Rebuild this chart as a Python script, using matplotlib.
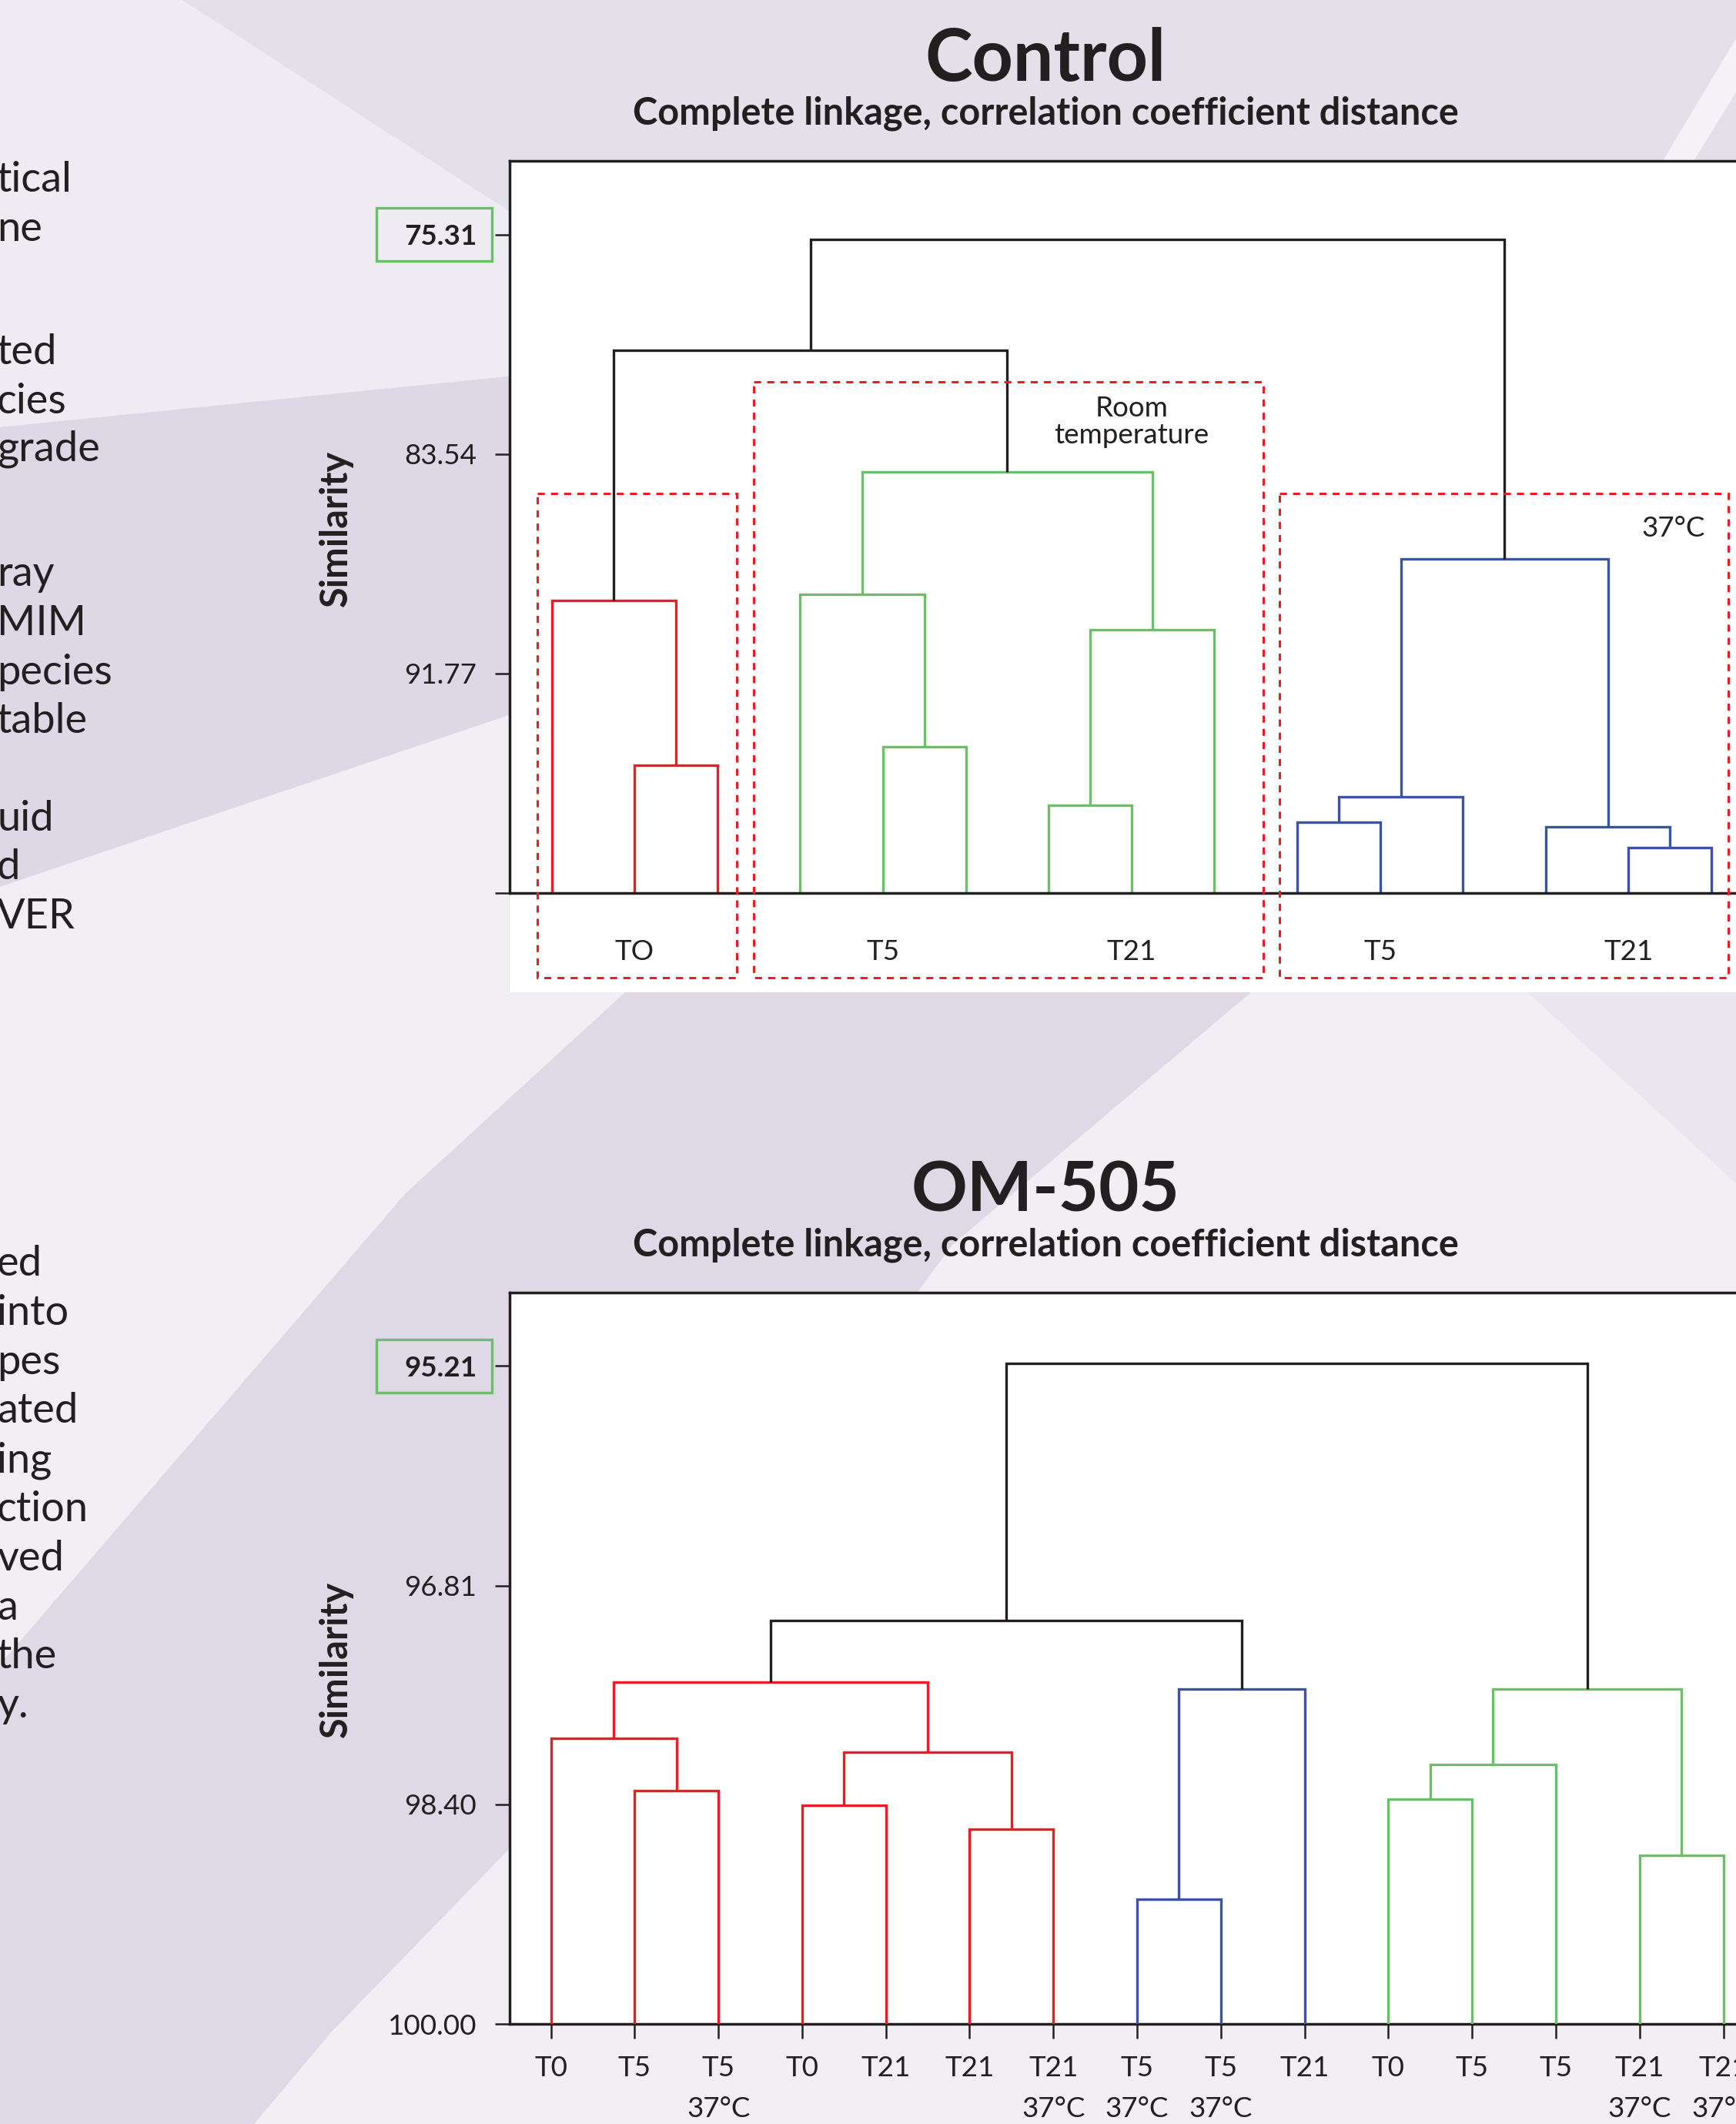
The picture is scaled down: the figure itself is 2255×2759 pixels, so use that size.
import matplotlib
matplotlib.use('Agg')
import matplotlib.pyplot as plt
import matplotlib.transforms as mtransforms
from matplotlib.patches import Rectangle, Polygon

plt.rcParams['font.family'] = ['Lato', 'Open Sans', 'DejaVu Sans']

# ---------------- data ----------------
# Control dendrogram: 15 leaves (0..14), merges create nodes 15..28
ctrl_n_leaves = 15
ctrl_merge_a = [1, 0, 4, 3, 6, 19, 18, 9, 22, 13, 12, 23, 16, 27]
ctrl_merge_b = [2, 15, 5, 17, 7, 8, 20, 10, 11, 14, 24, 25, 21, 26]
ctrl_merge_sim = [95.22, 89.04, 94.51, 88.79, 96.70, 90.12, 84.21,
                  97.34, 96.38, 98.30, 97.51, 87.48, 79.63, 75.49]
ctrl_merge_grp = ['r', 'r', 'g', 'g', 'g', 'g', 'g',
                  'b', 'b', 'b', 'b', 'b', 'k', 'k']
ctrl_group_labels = ['TO', 'T5', 'T21', 'T5', 'T21']
ctrl_group_centre_leaf = [2, 5, 8, 11, 14]
ctrl_box_leaf_ranges = [(1, 3), (4, 9), (10, 15)]
ctrl_box_labels = ['', 'Room\ntemperature', '37°C']
ctrl_yticks = [75.31, 83.54, 91.77, 100.00]
ctrl_yticklabels = ['75.31', '83.54', '91.77', '']

# OM-505 dendrogram
om_n_leaves = 15
om_leaf_time = ['T0', 'T5', 'T5', 'T0', 'T21', 'T21', 'T21', 'T5', 'T5',
                'T21', 'T0', 'T5', 'T5', 'T21', 'T21']
om_leaf_temp = ['', '', '37°C', '', '', '', '37°C', '37°C', '37°C',
                '', '', '', '', '37°C', '37°C']
om_merge_a = [1, 0, 3, 5, 17, 16, 7, 21, 20, 10, 24, 13, 25, 23]
om_merge_b = [2, 15, 4, 6, 18, 19, 8, 9, 22, 11, 12, 14, 26, 27]
om_merge_sim = [98.30, 97.92, 98.41, 98.58, 98.02, 97.51, 99.09,
                97.56, 97.06, 98.36, 98.11, 98.77, 97.56, 95.19]
om_merge_grp = ['r', 'r', 'r', 'r', 'r', 'r', 'b', 'b', 'k',
                'g', 'g', 'g', 'g', 'k']
om_yticks = [95.21, 96.81, 98.40, 100.00]
om_yticklabels = ['95.21', '96.81', '98.40', '100.00']

# ---------------- style ----------------
K = '#231f20'
RED = '#ed1c24'
GREEN = '#6cbf6a'
BLUE = '#3a53a4'
COLS = {'r': RED, 'g': GREEN, 'b': BLUE, 'k': K}
FS = 26.5
AX_LW = 2.5

W, H = 2255, 2759
DPI = 100
fig = plt.figure(figsize=(W / DPI, H / DPI), dpi=DPI)
fig.patch.set_facecolor('#e6e2ec')


def fx(px):
    return px / W


def fy(py):
    return 1 - py / H


def bg(pts, color):
    fig.add_artist(Polygon([(fx(x), fy(y)) for x, y in pts], closed=True,
                           transform=fig.transFigure, facecolor=color,
                           edgecolor='none', zorder=-10))


# background poster shading
bg([(237, 0), (2255, 0), (2255, 209), (661, 209), (661, 274)], '#e4e0ea')
bg([(0, 0), (237, 0), (661, 274), (661, 489), (0, 555)], '#eeebf2')
bg([(0, 555), (661, 489), (661, 929), (0, 1152)], '#ded7e5')
bg([(0, 1152), (661, 929), (661, 1289), (2255, 1289), (2255, 2759), (0, 2759)], '#f1eff4')
bg([(812, 1289), (1625, 1289), (1237, 1617), (663, 2400), (430, 2640), (330, 2759),
    (0, 2759), (0, 2162), (527, 1550)], '#dfd8e6')
bg([(1984, 1289), (2255, 1289), (2255, 1537)], '#e9e6ee')
bg([(2255, 50), (2255, 120), (2200, 209), (2160, 209)], '#f4f2f7')


def draw_dendro(ax, n, ma, mb, msim, mgrp, lw=2.4):
    xs = {i: i + 1.0 for i in range(n)}
    hs = {i: 100.0 for i in range(n)}
    for k, (a, b, h, g) in enumerate(zip(ma, mb, msim, mgrp)):
        node = n + k
        xa, xb = xs[a], xs[b]
        ax.plot([xa, xa, xb, xb], [hs[a], h, h, hs[b]], color=COLS[g], lw=lw,
                solid_joinstyle='miter', solid_capstyle='butt', zorder=3)
        xs[node] = (xa + xb) / 2
        hs[node] = h
    return xs


def style_axes(ax):
    for s in ax.spines.values():
        s.set_color(K)
        s.set_linewidth(AX_LW)
    ax.spines['right'].set_visible(False)
    ax.tick_params(axis='both', colors=K, labelcolor=K, width=1.8, length=13.7,
                   labelsize=FS)


def value_box(ax, val, half_h):
    tr = mtransforms.blended_transform_factory(fig.transFigure, ax.transData)
    ax.add_patch(Rectangle((fx(489), val - half_h), 150 / W, 2 * half_h,
                           transform=tr, fill=False, edgecolor=GREEN, lw=2.4,
                           clip_on=False, zorder=6))


# ---------------- Control ----------------
ax1 = fig.add_axes([fx(662), fy(1289), fx(2255) - fx(662), (1289 - 209) / H])
ax1.set_facecolor('white')
ax1.set_xlim(0.4935, 15.297)
ax1.set_ylim(103.725, 72.54)
style_axes(ax1)
ax1.spines['bottom'].set_visible(False)
ax1.spines['left'].set_bounds(100, 72.54)
ax1.axhline(100, color=K, lw=AX_LW, zorder=5)
ax1.set_xticks([])
ax1.set_yticks(ctrl_yticks, ctrl_yticklabels)
ax1.tick_params(axis='y', pad=17)
ax1.get_yticklabels()[0].set_fontweight('bold')
draw_dendro(ax1, ctrl_n_leaves, ctrl_merge_a, ctrl_merge_b, ctrl_merge_sim, ctrl_merge_grp)
for lab, c in zip(ctrl_group_labels, ctrl_group_centre_leaf):
    ax1.text(c, 102.2, lab, ha='center', va='center', fontsize=FS, color=K)

box_pads = [(0.172, 0.235), (0.56, 0.59), (0.21, 0.20)]
box_tops = [85.0, 80.83, 85.0]
for (l0, l1), (pl, pr), top in zip(ctrl_box_leaf_ranges, box_pads, box_tops):
    ax1.add_patch(Rectangle((l0 - pl, top), (l1 + pr) - (l0 - pl), 103.18 - top,
                            fill=False, edgecolor=RED, lw=2.2,
                            ls=(0, (3.0, 2.6)), zorder=6))
ax1.text(8, 82.33, ctrl_box_labels[1], ha='center', va='center', fontsize=FS,
         color=K, linespacing=1.1)
ax1.text(14.545, 86.32, ctrl_box_labels[2], ha='center', va='center', fontsize=FS,
         color=K)
value_box(ax1, 75.31, 0.996)

# ---------------- OM-505 ----------------
ax2 = fig.add_axes([fx(662), fy(2629.3), fx(2255) - fx(662), (2629.3 - 1679) / H])
ax2.set_facecolor('white')
ax2.set_xlim(0.508, 15.151)
ax2.set_ylim(100, 94.676)
style_axes(ax2)
ax2.set_yticks(om_yticks, om_yticklabels)
ax2.tick_params(axis='y', pad=17)
ax2.get_yticklabels()[0].set_fontweight('bold')
om_labels = [t + ('\n' + c if c else '') for t, c in zip(om_leaf_time, om_leaf_temp)]
ax2.set_xticks(range(1, om_n_leaves + 1), om_labels)
ax2.tick_params(axis='x', pad=15.5)
for t in ax2.get_xticklabels():
    t.set_linespacing(1.73)
draw_dendro(ax2, om_n_leaves, om_merge_a, om_merge_b, om_merge_sim, om_merge_grp)
value_box(ax2, 95.21, 0.193)

# ---------------- titles / labels ----------------
fig.text(fx(1358), fy(105), 'Control', ha='center', va='baseline', fontsize=67,
         fontweight='bold', color=K)
fig.text(fx(1358), fy(162), 'Complete linkage, correlation coefficient distance',
         ha='center', va='baseline', fontsize=35, fontweight='bold', color=K)
fig.text(fx(1358), fy(1574), 'OM-505', ha='center', va='baseline', fontsize=65,
         fontweight='bold', color=K)
fig.text(fx(1358), fy(1631), 'Complete linkage, correlation coefficient distance',
         ha='center', va='baseline', fontsize=35, fontweight='bold', color=K)
fig.text(fx(436), fy(686), 'Similarity', rotation=90, ha='center', va='center',
         fontsize=35, fontweight='bold', color=K)
fig.text(fx(436), fy(2155), 'Similarity', rotation=90, ha='center', va='center',
         fontsize=35, fontweight='bold', color=K)

# cut-off poster body text on the left edge
left_lines = [('tical', 249), ('ne', 313), ('ted', 473), ('cies', 537), ('grade', 599),
              ('ray', 761), ('MIM', 825), ('pecies', 889), ('table', 952),
              ('uid', 1079), ('d', 1142), ('VER', 1206),
              ('ed', 1657), ('into', 1721), ('pes', 1785), ('ated', 1848),
              ('ing', 1912), ('ction', 1976), ('ved', 2040), ('a', 2104),
              ('the', 2167), ('y.', 2231)]
for s, yb in left_lines:
    fig.text(fx(-4), fy(yb), s, ha='left', va='baseline', fontsize=39, color=K)

fig.savefig('out.png', dpi=DPI, facecolor=fig.get_facecolor())
